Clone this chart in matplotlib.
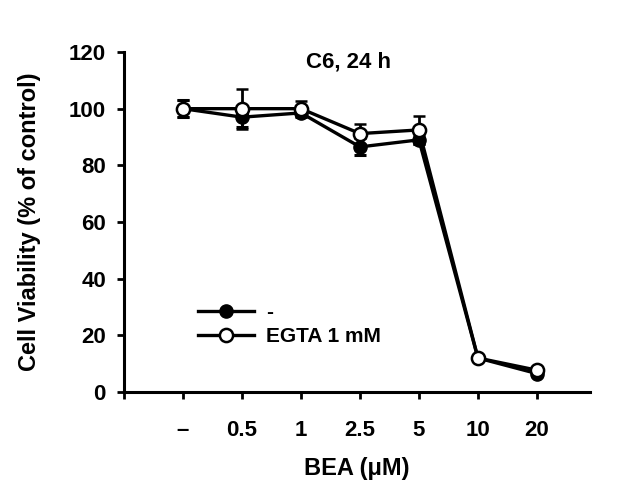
import matplotlib
matplotlib.use("Agg")
import matplotlib.pyplot as plt
from matplotlib.lines import Line2D

categories = ["–", "0.5", "1", "2.5", "5", "10", "20"]
ctrl_vals = [100, 97, 98.5, 86.5, 89, 12, 6.5]
ctrl_err = [3, 3.5, 1.5, 3, 1.5, 0.5, 0.5]
egta_vals = [100, 100, 100, 91.2, 92.5, 12, 7.7]
egta_err = [3, 7, 2.7, 3.5, 5, 0.5, 0.5]

plt.rcParams['font.family'] = ['Liberation Sans', 'DejaVu Sans']
plt.rcParams['font.weight'] = 'bold'

fig = plt.figure(figsize=(6.42, 4.95), dpi=100)
ax = fig.add_axes([124/642, 1-392/495, 466/642, 340/495])

x = list(range(1, len(categories)+1))
ax.errorbar(x, ctrl_vals, yerr=ctrl_err, color='black', lw=2.4, marker='o', ms=9.5,
            mfc='black', mec='black', capsize=4.5, elinewidth=2, capthick=2.2, zorder=2)
ax.errorbar(x, egta_vals, yerr=egta_err, color='black', lw=2.4, marker='o', ms=9.5,
            mfc='white', mec='black', mew=1.8, capsize=4.5, elinewidth=2, capthick=2.2,
            zorder=3)

ax.set_xlim(0, 7.9)
ax.set_ylim(0, 120)
ax.set_xticks(range(0, 8))
ax.set_xticklabels([""] + categories)
ax.set_yticks(range(0, 121, 20))
for s in ['top', 'right']:
    ax.spines[s].set_visible(False)
for s in ['left', 'bottom']:
    ax.spines[s].set_linewidth(2.2)
ax.tick_params(axis='both', direction='out', length=5, width=2, labelsize=16, pad=8)
ax.tick_params(axis='x', pad=15)
for lab in ax.get_xticklabels() + ax.get_yticklabels():
    lab.set_fontweight('bold')

ax.set_xlabel("BEA (μM)", fontsize=17, fontweight='bold', labelpad=12)
ax.set_ylabel("Cell Viability (% of control)", fontsize=17, fontweight='bold', labelpad=20)
ax.text(3.8, 116.5, "C6, 24 h", fontsize=16, fontweight='bold', ha='center', va='center')

handles = [
    Line2D([], [], color='black', lw=2.4, marker='o', ms=9.5, mfc='black', mec='black'),
    Line2D([], [], color='black', lw=2.4, marker='o', ms=9.5, mfc='white', mec='black', mew=1.8),
]
leg = ax.legend(handles, ['-', 'EGTA 1 mM'], loc='upper left', bbox_to_anchor=(0.14, 0.285),
                frameon=False, fontsize=15, handlelength=2.7, labelspacing=0.22,
                handletextpad=0.6, borderaxespad=0)
for t in leg.get_texts():
    t.set_fontweight('bold')

fig.savefig("out.png", dpi=100)
